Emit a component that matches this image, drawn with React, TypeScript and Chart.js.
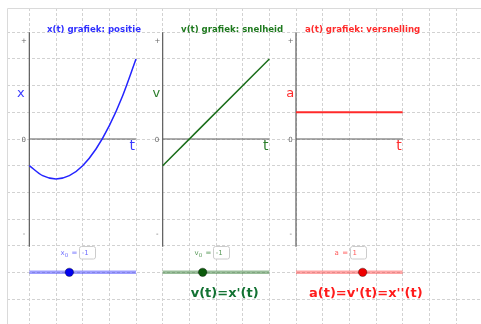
import React, { useEffect, useRef } from "react";
import { Chart, registerables } from "chart.js";

Chart.register(...registerables);

// ---------- data ----------
const panelTitles = ["x(t) grafiek: positie", "v(t) grafiek: snelheid", "a(t) grafiek: versnelling"];
const axisNames = ["x", "v", "a"];
const timeLabel = "t";
const tickLabels = ["+", "0", "-"];

const tPosition = [0, 0.5, 1, 1.5, 2, 2.5, 3, 3.5, 4];
const positionValues = [-1, -1.375, -1.5, -1.375, -1, -0.375, 0.5, 1.625, 3];
const tVelocity = [0, 4];
const velocityValues = [-1, 3];
const tAcceleration = [0, 4];
const accelerationValues = [1, 1];

const sliderNames = ["x", "v", "a"];
const sliderSubscripts = ["0", "0", ""];
const sliderValues = [-1, -1, 1];
const sliderMin = -4;
const sliderMax = 4;

const formulas = ["", "v(t)=x'(t)", "a(t)=v'(t)=x''(t)"];

// ---------- layout / style ----------
const W = 481;
const H = 324;
const PANEL_SHIFT = 5; // grid units between panels
const T_MAX = 4;
const Y_AXIS_MIN = -4.04;
const Y_AXIS_MAX = 4;
const SLIDER_Y = -5;
const X_MIN = -0.8375;
const X_MAX = 16.9375;
const Y_MIN = -6.9375;
const Y_MAX = 4.9125;

const FONT = "'DejaVu Sans', sans-serif";

const titleColors = ["#3030ff", "#1f7a1f", "#ff2b2b"];
const curveColors = ["#2424ff", "#1a6e1a", "#ff2a2a"];
const nameColors = ["#3b3bff", "#2a7d2a", "#ff2b2b"];
const sliderTrack = ["rgba(40,40,255,0.45)", "rgba(30,110,30,0.45)", "rgba(255,40,40,0.42)"];
const sliderPoint = ["#0000ee", "#0b5a0b", "#ee0000"];
const sliderText = ["#7070ff", "#5a9a5a", "#ff5a5a"];
const formulaColors = ["#000", "#137233", "#ff1c1c"];
const curveWidths = [1.5, 1.5, 2];

const titleDx = [0.66, 0.69, 0.34]; // units from panel axis
const nameDx = [-8.6, -6.3, -5.7];
const boxDx = [50, 50.6, 54];
const formulaDx = [0, 28, 13];

function panelOffset(p: number) {
  return p * PANEL_SHIFT;
}

function buildDatasets() {
  const ds: any[] = [];
  const series = [
    { t: tPosition, v: positionValues },
    { t: tVelocity, v: velocityValues },
    { t: tAcceleration, v: accelerationValues },
  ];
  for (let p = 0; p < 3; p++) {
    const o = panelOffset(p);
    ds.push({
      data: [{ x: o, y: Y_AXIS_MIN }, { x: o, y: Y_AXIS_MAX }],
      borderColor: "#5c5c5c",
      borderWidth: 1.2,
      pointRadius: 0,
      order: 10,
    });
    ds.push({
      data: [{ x: o, y: 0 }, { x: o + T_MAX, y: 0 }],
      borderColor: "#5c5c5c",
      borderWidth: 1.2,
      pointRadius: 0,
      order: 10,
    });
    ds.push({
      data: series[p].t.map((t, i) => ({ x: o + t, y: series[p].v[i] })),
      borderColor: curveColors[p],
      borderWidth: curveWidths[p],
      pointRadius: 0,
      cubicInterpolationMode: "monotone",
      order: 3,
    });
    ds.push({
      data: [{ x: o, y: SLIDER_Y }, { x: o + T_MAX, y: SLIDER_Y }],
      borderColor: sliderTrack[p],
      borderWidth: 3.5,
      borderCapStyle: "butt",
      pointRadius: 0,
      order: 5,
    });
    const frac = (sliderValues[p] - sliderMin) / (sliderMax - sliderMin);
    ds.push({
      data: [{ x: o + frac * T_MAX, y: SLIDER_Y }],
      showLine: false,
      pointRadius: 4.2,
      pointBackgroundColor: sliderPoint[p],
      pointBorderColor: "rgba(0,0,0,0.35)",
      pointBorderWidth: 1,
      order: 1,
    });
  }
  return ds;
}

const framePlugin = {
  id: "ggbFrame",
  beforeDatasetsDraw(chart: any) {
    const ctx = chart.ctx as CanvasRenderingContext2D;
    const a = chart.chartArea;
    ctx.save();
    ctx.strokeStyle = "#dadada";
    ctx.lineWidth = 1;
    ctx.setLineDash([]);
    ctx.beginPath();
    ctx.moveTo(Math.round(a.left) + 0.5, H);
    ctx.lineTo(Math.round(a.left) + 0.5, Math.round(a.top) + 0.5);
    ctx.lineTo(W, Math.round(a.top) + 0.5);
    ctx.stroke();
    ctx.restore();
  },
};

const textPlugin = {
  id: "ggbTexts",
  afterDatasetsDraw(chart: any) {
    const ctx = chart.ctx as CanvasRenderingContext2D;
    const xs = chart.scales.x;
    const ys = chart.scales.y;
    ctx.save();
    for (let p = 0; p < 3; p++) {
      const o = panelOffset(p);
      const ox = xs.getPixelForValue(o);
      const oy = ys.getPixelForValue(0);
      ctx.font = `bold 8.6px ${FONT}`;
      ctx.fillStyle = titleColors[p];
      ctx.textAlign = "left";
      ctx.textBaseline = "middle";
      ctx.fillText(panelTitles[p], xs.getPixelForValue(o + titleDx[p]), 29.5);
      ctx.font = `13px ${FONT}`;
      ctx.fillStyle = nameColors[p];
      ctx.textAlign = "center";
      ctx.fillText(axisNames[p], ox + nameDx[p], oy - 45);
      ctx.font = `14px ${FONT}`;
      ctx.fillText(timeLabel, ox + 103, oy + 7);
      ctx.font = `7px ${FONT}`;
      ctx.fillStyle = "#666";
      ctx.fillText(tickLabels[0], ox - 5.3, ys.getPixelForValue(Y_AXIS_MAX) + 8.5);
      ctx.fillText(tickLabels[1], ox - 5.6, oy + 1);
      ctx.fillText(tickLabels[2], ox - 5.3, ys.getPixelForValue(Y_AXIS_MIN) - 12.5);
      const bx = ox + boxDx[p];
      const by = ys.getPixelForValue(SLIDER_Y) - 26;
      ctx.fillStyle = "#fff";
      ctx.strokeStyle = "#cccccc";
      ctx.lineWidth = 1;
      ctx.beginPath();
      if ((ctx as any).roundRect) (ctx as any).roundRect(Math.round(bx) + 0.5, Math.round(by) + 0.5, 16, 12.5, 2);
      else ctx.rect(Math.round(bx) + 0.5, Math.round(by) + 0.5, 16, 12.5);
      ctx.fill();
      ctx.stroke();
      ctx.fillStyle = sliderText[p];
      ctx.textAlign = "left";
      ctx.font = `7px ${FONT}`;
      ctx.fillText(String(sliderValues[p]), bx + 2.5, by + 6.8);
      ctx.textAlign = "right";
      ctx.fillText("=", bx - 2, by + 6.5);
      const eqW = ctx.measureText("= ").width + 2;
      let rx = bx - eqW - 1;
      if (sliderSubscripts[p]) {
        ctx.font = `5.5px ${FONT}`;
        ctx.fillText(sliderSubscripts[p], rx, by + 9);
        rx -= ctx.measureText(sliderSubscripts[p]).width;
        ctx.font = `7px ${FONT}`;
      }
      ctx.fillText(sliderNames[p], rx, by + 6.5);
      if (formulas[p]) {
        ctx.font = `bold 13px ${FONT}`;
        ctx.fillStyle = formulaColors[p];
        ctx.textAlign = "left";
        ctx.fillText(formulas[p], ox + formulaDx[p], oy + 154.5);
      }
    }
    ctx.restore();
  },
};

export default function App() {
  const ref = useRef<HTMLCanvasElement | null>(null);
  useEffect(() => {
    if (!ref.current) return;
    const xTicks = Array.from({ length: 17 }, (_, i) => i);
    const yTicks = Array.from({ length: 11 }, (_, i) => i - 6);
    const chart = new Chart(ref.current, {
      type: "line",
      data: { datasets: buildDatasets() },
      options: {
        animation: false,
        responsive: false,
        events: [],
        layout: { autoPadding: false, padding: { left: 7, top: 8, right: 0, bottom: 0 } },
        plugins: { legend: { display: false }, tooltip: { enabled: false } },
        scales: {
          x: {
            type: "linear",
            position: "top",
            min: X_MIN,
            max: X_MAX,
            afterBuildTicks: (s: any) => {
              s.ticks = xTicks.map((v) => ({ value: v }));
            },
            ticks: { display: false },
            grid: { color: "#d2d2d2", lineWidth: 1, drawTicks: false },
            border: { display: false, dash: [3, 2] },
          },
          y: {
            type: "linear",
            position: "left",
            min: Y_MIN,
            max: Y_MAX,
            afterBuildTicks: (s: any) => {
              s.ticks = yTicks.map((v) => ({ value: v }));
            },
            ticks: { display: false },
            grid: { color: "#d2d2d2", lineWidth: 1, drawTicks: false },
            border: { display: false, dash: [3, 2] },
          },
        },
      } as any,
      plugins: [framePlugin, textPlugin],
    });
    return () => chart.destroy();
  }, []);
  return (
    <div style={{ position: "absolute", left: 0, top: 0, width: W, height: H, background: "#fff" }}>
      <canvas ref={ref} width={W} height={H} style={{ display: "block", width: W, height: H }} />
    </div>
  );
}
